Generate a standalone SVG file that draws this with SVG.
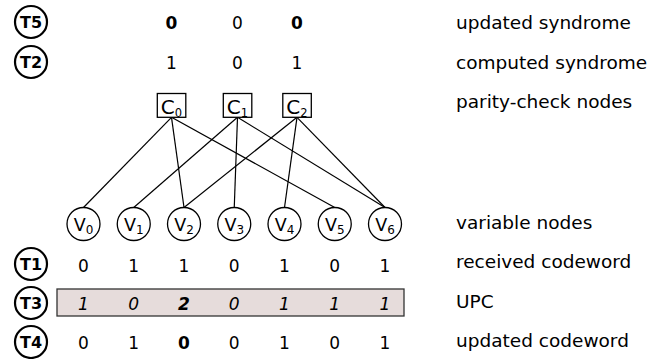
<svg xmlns="http://www.w3.org/2000/svg" width="667" height="359" viewBox="0 0 667 359">
  <style>
    text { font-family: "DejaVu Sans", Verdana, sans-serif; fill: #000; }
    .num { font-size: 17px; text-anchor: middle; }
    .b { font-weight: bold; }
    .it { font-style: italic; }
    .lbl { font-size: 18.5px; }
    .badge circle { fill: #fff; stroke: #000; stroke-width: 2.2; }
    .badge text { font-size: 16px; font-weight: bold; text-anchor: middle; }
    .check rect { fill: #fff; stroke: #000; stroke-width: 1.3; }
    .check text { font-size: 20px; text-anchor: middle; }
    .check .sub { font-size: 11.5px; }
    .var circle { fill: #fff; stroke: #000; stroke-width: 1.3; }
    .var text { font-size: 17.5px; text-anchor: middle; }
    .var .sub { font-size: 12px; }
    #edges line { stroke: #000; stroke-width: 1.2; }
  </style>

  <!-- step badges -->
  <g id="badge-T5" class="badge"><circle cx="31" cy="22" r="16"/><text x="31" y="28">T5</text></g>
  <g id="badge-T2" class="badge"><circle cx="31" cy="62" r="16"/><text x="31" y="68">T2</text></g>
  <g id="badge-T1" class="badge"><circle cx="31" cy="264" r="16"/><text x="31" y="270">T1</text></g>
  <g id="badge-T3" class="badge"><circle cx="31" cy="303" r="16"/><text x="31" y="309">T3</text></g>
  <g id="badge-T4" class="badge"><circle cx="31" cy="342" r="16"/><text x="31" y="348">T4</text></g>

  <!-- syndromes -->
  <g id="updated-syndrome">
    <text class="num b" x="171.5" y="28.5">0</text>
    <text class="num" x="237.5" y="28.5">0</text>
    <text class="num b" x="297" y="28.5">0</text>
  </g>
  <g id="computed-syndrome">
    <text class="num" x="171.5" y="68.5">1</text>
    <text class="num" x="237.5" y="68.5">0</text>
    <text class="num" x="297" y="68.5">1</text>
  </g>

  <!-- Tanner graph edges -->
  <g id="edges">
    <line x1="171.5" y1="117.3" x2="83.5" y2="207.5"/>
    <line x1="171.5" y1="117.3" x2="184" y2="207.5"/>
    <line x1="171.5" y1="117.3" x2="334.75" y2="207.5"/>
    <line x1="237.5" y1="117.3" x2="133.75" y2="207.5"/>
    <line x1="237.5" y1="117.3" x2="234.25" y2="207.5"/>
    <line x1="237.5" y1="117.3" x2="385" y2="207.5"/>
    <line x1="297" y1="117.3" x2="184" y2="207.5"/>
    <line x1="297" y1="117.3" x2="284.5" y2="207.5"/>
    <line x1="297" y1="117.3" x2="385" y2="207.5"/>
  </g>

  <!-- parity-check nodes -->
  <g id="C0" class="check"><rect x="157.3" y="93.5" width="28.5" height="23.8"/><text x="171.5" y="114">C<tspan class="sub" dy="2.5">0</tspan></text></g>
  <g id="C1" class="check"><rect x="223.3" y="93.5" width="28.5" height="23.8"/><text x="237.5" y="114">C<tspan class="sub" dy="2.5">1</tspan></text></g>
  <g id="C2" class="check"><rect x="282.8" y="93.5" width="28.5" height="23.8"/><text x="297" y="114">C<tspan class="sub" dy="2.5">2</tspan></text></g>

  <!-- variable nodes -->
  <g id="V0" class="var"><circle cx="83.5" cy="224" r="16.5"/><text x="83.5" y="231">V<tspan class="sub" dy="3.3">0</tspan></text></g>
  <g id="V1" class="var"><circle cx="133.75" cy="224" r="16.5"/><text x="133.75" y="231">V<tspan class="sub" dy="3.3">1</tspan></text></g>
  <g id="V2" class="var"><circle cx="184" cy="224" r="16.5"/><text x="184" y="231">V<tspan class="sub" dy="3.3">2</tspan></text></g>
  <g id="V3" class="var"><circle cx="234.25" cy="224" r="16.5"/><text x="234.25" y="231">V<tspan class="sub" dy="3.3">3</tspan></text></g>
  <g id="V4" class="var"><circle cx="284.5" cy="224" r="16.5"/><text x="284.5" y="231">V<tspan class="sub" dy="3.3">4</tspan></text></g>
  <g id="V5" class="var"><circle cx="334.75" cy="224" r="16.5"/><text x="334.75" y="231">V<tspan class="sub" dy="3.3">5</tspan></text></g>
  <g id="V6" class="var"><circle cx="385" cy="224" r="16.5"/><text x="385" y="231">V<tspan class="sub" dy="3.3">6</tspan></text></g>

  <!-- received codeword -->
  <g id="received-codeword">
    <text class="num" x="83.5" y="272">0</text>
    <text class="num" x="133.75" y="272">1</text>
    <text class="num" x="184" y="272">1</text>
    <text class="num" x="234.25" y="272">0</text>
    <text class="num" x="284.5" y="272">1</text>
    <text class="num" x="334.75" y="272">0</text>
    <text class="num" x="385" y="272">1</text>
  </g>

  <!-- unsatisfied parity-check counts -->
  <g id="upc">
    <rect x="57" y="289" width="347" height="27" fill="#e6dcdb" stroke="#333" stroke-width="1.3"/>
    <text class="num it" x="83.5" y="310">1</text>
    <text class="num it" x="133.75" y="310">0</text>
    <text class="num it b" x="184" y="310">2</text>
    <text class="num it" x="234.25" y="310">0</text>
    <text class="num it" x="284.5" y="310">1</text>
    <text class="num it" x="334.75" y="310">1</text>
    <text class="num it" x="385" y="310">1</text>
  </g>

  <!-- updated codeword -->
  <g id="updated-codeword">
    <text class="num" x="83.5" y="348.5">0</text>
    <text class="num" x="133.75" y="348.5">1</text>
    <text class="num b" x="184" y="348.5">0</text>
    <text class="num" x="234.25" y="348.5">0</text>
    <text class="num" x="284.5" y="348.5">1</text>
    <text class="num" x="334.75" y="348.5">0</text>
    <text class="num" x="385" y="348.5">1</text>
  </g>

  <!-- row captions -->
  <g id="captions">
    <text class="lbl" x="456" y="29">updated syndrome</text>
    <text class="lbl" x="456" y="69">computed syndrome</text>
    <text class="lbl" x="456" y="108">parity-check nodes</text>
    <text class="lbl" x="456" y="229">variable nodes</text>
    <text class="lbl" x="456" y="268">received codeword</text>
    <text class="lbl" x="456" y="308">UPC</text>
    <text class="lbl" x="456" y="347">updated codeword</text>
  </g>
</svg>
